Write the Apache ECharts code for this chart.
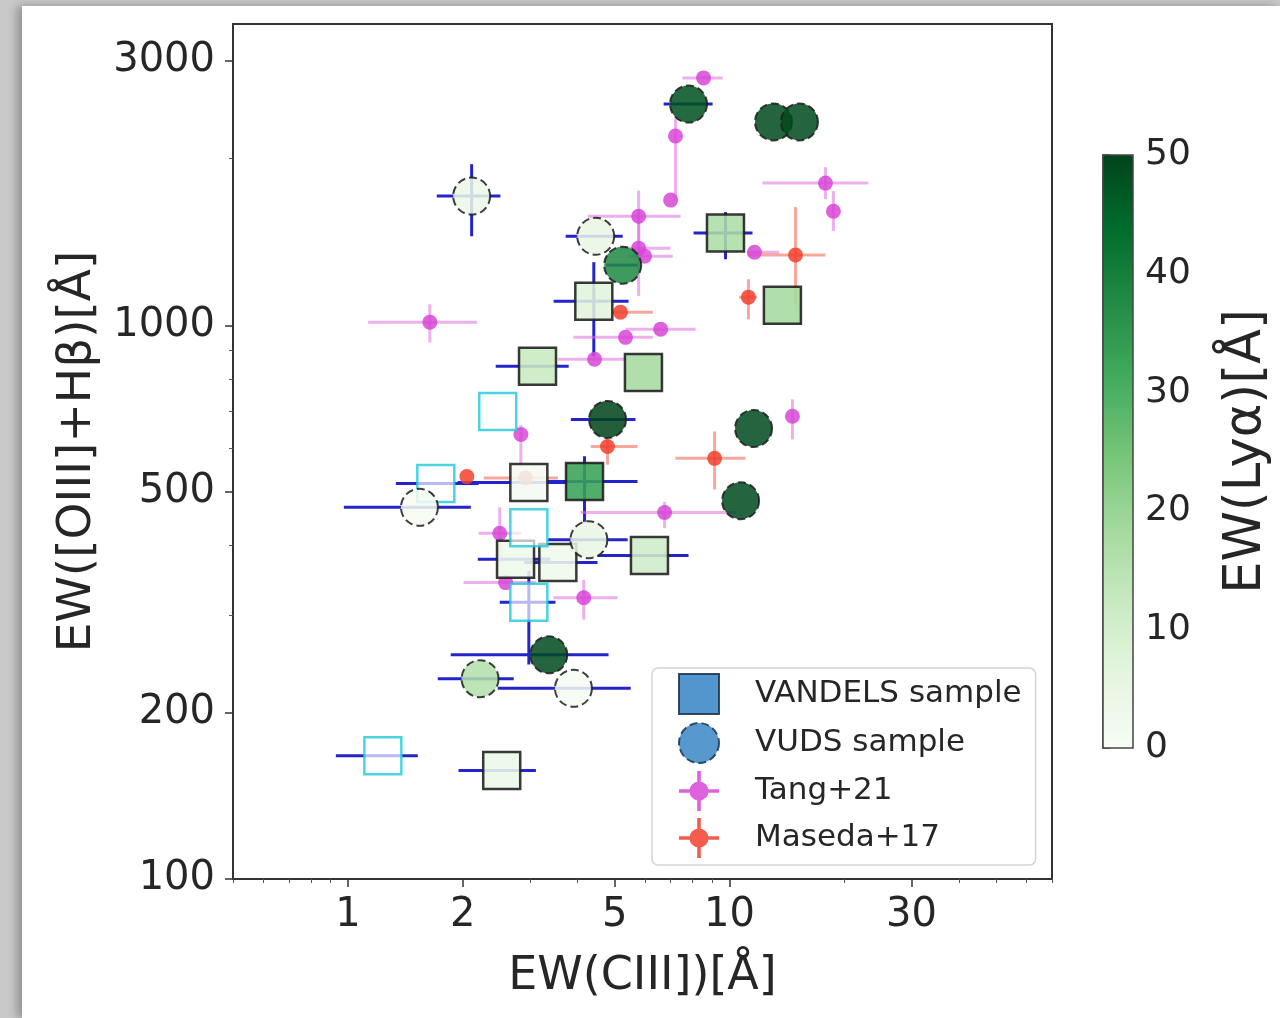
<!DOCTYPE html>
<html>
<head>
<meta charset="utf-8">
<title>EW([OIII]+Hβ) vs EW(CIII])</title>
<script src="https://cdn.jsdelivr.net/npm/echarts@6/dist/echarts.min.js"></script>
<style>
  html, body { margin: 0; padding: 0; width: 1280px; height: 1018px; overflow: hidden; background: #c9c9c9; }
  #card { position: absolute; left: 22px; top: 6px; right: 0; bottom: 0; background: #fff;
          box-shadow: -5px 0 9px rgba(0,0,0,0.28); }
  #chart { position: absolute; left: 0; top: 0; width: 1280px; height: 1018px; }
</style>
</head>
<body>
<div id="card"></div>
<div id="chart"></div>
<script>
// ---- VANDELS sample (with Lyα) ----
const vandelsX    = [4.41, 9.76, 13.76, 3.14, 5.95, 2.98, 4.17, 2.75, 3.55, 6.17, 2.53];
const vandelsY    = [1105, 1467, 1087, 843, 822, 520, 522, 378, 373, 384, 157];
const vandelsLya  = [7, 17, 18, 12, 18, 1, 33, 3, 3, 11, 4];
const vandelsXErr = [[3.46,5.44],[8.05,11.49],null,[2.44,3.79],null,[1.94,3.72],[3.30,5.74],[2.19,3.40],[2.90,4.51],[4.51,7.81],[1.95,3.11]];
const vandelsYErr = [[879,1300],[1316,1601],null,null,null,null,[440,580],null,null,null,null];

// ---- VANDELS sample without Lyα measurement ----
const vandelsNoLyaX    = [2.47, 1.70, 2.98, 2.98, 1.235];
const vandelsNoLyaY    = [699, 518, 431, 316, 167];
const vandelsNoLyaXErr = [null, [1.336,2.2], null, [2.5,3.5], [0.93,1.525]];
const vandelsNoLyaYErr = [null, null, null, [244,360], null];

// ---- VUDS sample ----
const vudsX    = [2.11, 4.46, 5.25, 7.81, 13.04, 15.25, 4.79, 11.56, 10.69, 1.54, 4.28, 3.36, 2.22, 3.90];
const vudsY    = [1711, 1448, 1284, 2509, 2329, 2329, 676, 651, 482, 469, 410, 254, 230, 221];
const vudsLya  = [4, 5, 38, 48, 49, 49, 50, 49, 49, 1, 5, 49, 16, 1];
const vudsXErr = [[1.71,2.51],[3.72,5.25],[4.75,5.75],[6.72,9.03],null,null,[3.84,5.67],null,null,[0.976,2.10],[3.34,5.41],[1.86,4.82],[1.72,2.72],[2.47,5.51]];
const vudsYErr = [[1448,1954],null,null,null,null,null,null,null,null,null,null,null,null,null];

// ---- Tang+21 ----
const tangX    = [8.55, 7.22, 7.01, 5.78, 17.84, 18.72, 5.78, 5.99, 11.63, 6.60, 5.34, 4.43, 1.64, 2.84, 2.50, 6.76, 4.15, 14.62, 2.59];
const tangY    = [2797, 2197, 1683, 1574, 1806, 1607, 1378, 1333, 1355, 984, 951, 868, 1013, 635, 421, 459, 322, 685, 343];
const tangXErr = [[7.53,9.59],null,null,[4.25,7.44],[12.2,23.1],null,[5.2,7.0],[5.4,7.1],[11.1,13.5],[5.34,8.15],[3.9,6.3],[3.55,5.41],[1.13,2.18],null,[2.2,2.85],[4.07,10.37],[3.46,5.09],null,[2.01,3.11]];
const tangYErr = [null,[1690,2360],null,[1350,1750],[1690,1930],[1480,1747],[1130,1600],null,null,null,null,null,[931,1091],[556,660],[372,469],[430,480],[294,347],[622,735],null];

// ---- Maseda+17 ----
const masedaX    = [14.89, 11.21, 5.18, 4.79, 9.14, 2.05, 2.92];
const masedaY    = [1339, 1124, 1056, 604, 575, 533, 530];
const masedaXErr = [[11.14,17.84],[10.6,11.8],[4.9,6.3],[4.33,5.74],[7.22,11.01],null,[2.27,3.55]];
const masedaYErr = [[1090,1635],[1025,1211],null,[560,622],[505,643],null,null];

// ---- axes ----
const xMajorTicks = [1, 2, 5, 10, 30];
const xMinorTicks = [0.5, 0.6, 0.7, 0.8, 0.9, 3, 4, 6, 7, 8, 9, 20, 40, 50, 60, 70];
const yMajorTicks = [100, 200, 500, 1000, 3000];
const yMinorTicks = [300, 400, 600, 700, 800, 900, 2000];
const greens = ['#f7fcf5','#e5f5e0','#c7e9c0','#a1d99b','#74c476','#41ab5d','#238b45','#006d2c','#00441b'];

const FONT = 'DejaVu Sans';
const INK = '#262626';

function points(xs, ys, extra) {
  return xs.map((x, i) => extra ? [x, ys[i], extra[i]] : [x, ys[i]]);
}
function errRows(xs, ys, xe, ye) {
  return xs.map((x, i) => [x, ys[i],
    xe[i] ? xe[i][0] : x, xe[i] ? xe[i][1] : x,
    ye[i] ? ye[i][0] : ys[i], ye[i] ? ye[i][1] : ys[i]]);
}
function errorBars(color, width) {
  return function (params, api) {
    const x = api.value(0), y = api.value(1);
    const a = api.coord([api.value(2), y]), b = api.coord([api.value(3), y]);
    const c = api.coord([x, api.value(4)]), d = api.coord([x, api.value(5)]);
    const st = { stroke: color, lineWidth: width };
    return { type: 'group', children: [
      { type: 'line', shape: { x1: a[0], y1: a[1], x2: b[0], y2: b[1] }, style: st },
      { type: 'line', shape: { x1: c[0], y1: c[1], x2: d[0], y2: d[1] }, style: st }
    ]};
  };
}

const blueErr = []
  .concat(errRows(vandelsX, vandelsY, vandelsXErr, vandelsYErr))
  .concat(errRows(vandelsNoLyaX, vandelsNoLyaY, vandelsNoLyaXErr, vandelsNoLyaYErr))
  .concat(errRows(vudsX, vudsY, vudsXErr, vudsYErr));

const tickFmt = v => String(Math.round(v));
const markerIcon = 'path://M-0.9,-10H0.9V10H-0.9Z M-10,-0.9H10V0.9H-10Z M0,-4.8A4.8,4.8 0 1,1 0,4.8A4.8,4.8 0 1,1 0,-4.8Z';

const option = {
  animation: false,
  grid: [
    { left: 233, top: 24, right: 228, bottom: 139, show: true, borderColor: '#333', borderWidth: 2, backgroundColor: 'transparent' },
    { left: 1103, top: 155, width: 30, height: 593, show: true, borderColor: '#444', borderWidth: 1.5, z: 10 }
  ],
  xAxis: [
    { type: 'log', logBase: 10, min: 0.5, max: 70, gridIndex: 0, position: 'bottom',
      axisLine: { show: true, onZero: false, lineStyle: { color: '#333', width: 2 } },
      axisTick: { show: true, customValues: xMajorTicks, length: 8, lineStyle: { color: '#333', width: 1.5 } },
      axisLabel: { customValues: xMajorTicks, formatter: tickFmt, fontFamily: FONT, fontSize: 40, color: INK, margin: 17 },
      splitLine: { show: false },
      name: 'EW(CIII])[Å]', nameLocation: 'middle', nameGap: 75,
      nameTextStyle: { fontFamily: FONT, fontSize: 46, color: INK } },
    { type: 'log', logBase: 10, min: 0.5, max: 70, gridIndex: 0, position: 'bottom',
      axisLine: { show: false, onZero: false },
      axisTick: { show: true, customValues: xMinorTicks, length: 4, lineStyle: { color: '#555', width: 1 } },
      axisLabel: { show: false }, splitLine: { show: false } },
    { type: 'value', gridIndex: 1, show: false, min: 0, max: 1 }
  ],
  yAxis: [
    { type: 'log', logBase: 10, min: 100, max: 3500, gridIndex: 0, position: 'left',
      axisLine: { show: true, onZero: false, lineStyle: { color: '#333', width: 2 } },
      axisTick: { show: true, customValues: yMajorTicks, length: 8, lineStyle: { color: '#333', width: 1.5 } },
      axisLabel: { customValues: yMajorTicks, formatter: tickFmt, fontFamily: FONT, fontSize: 40, color: INK, margin: 18 },
      splitLine: { show: false },
      name: 'EW([OIII]+Hβ)[Å]', nameLocation: 'middle', nameGap: 132, nameRotate: 90,
      nameTextStyle: { fontFamily: FONT, fontSize: 47, color: INK } },
    { type: 'log', logBase: 10, min: 100, max: 3500, gridIndex: 0, position: 'left',
      axisLine: { show: false, onZero: false },
      axisTick: { show: true, customValues: yMinorTicks, length: 4, lineStyle: { color: '#555', width: 1 } },
      axisLabel: { show: false }, splitLine: { show: false } },
    { type: 'value', gridIndex: 1, min: 0, max: 50, interval: 10, position: 'right',
      axisLine: { show: true, lineStyle: { color: '#444', width: 1.5 } },
      axisTick: { show: true, length: 7, lineStyle: { color: '#444', width: 1.5 } },
      axisLabel: { fontFamily: FONT, fontSize: 36, color: INK, margin: 12 },
      splitLine: { show: false },
      name: 'EW(Lyα)[Å]', nameLocation: 'middle', nameGap: 88, nameRotate: 90,
      nameTextStyle: { fontFamily: FONT, fontSize: 51, color: INK } }
  ],
  visualMap: {
    type: 'continuous', min: 0, max: 50, dimension: 2, seriesIndex: [5, 7],
    left: 1103, top: 155, itemWidth: 30, itemHeight: 593, padding: 0,
    calculable: false, hoverLink: false, text: null, show: true,
    inRange: { color: greens }
  },
  legend: {
    orient: 'vertical', left: 652, top: 668, itemWidth: 40, itemHeight: 40, itemGap: 7,
    padding: [5, 14, 7, 26], backgroundColor: 'rgba(255,255,255,0.9)',
    borderColor: '#d4d4d4', borderWidth: 1.5, borderRadius: 6, z: 20,
    selectedMode: false,
    textStyle: { fontFamily: FONT, fontSize: 31, color: INK, padding: [0, 0, 0, 31] },
    data: [
      { name: 'VANDELS sample', icon: 'rect', itemStyle: { color: '#3b88c6', borderColor: '#1b3550', borderWidth: 2 } },
      { name: 'VUDS sample', icon: 'circle', itemStyle: { color: '#3b88c6', borderColor: '#1b3550', borderWidth: 2, borderType: 'dashed' } },
      { name: 'Tang+21', icon: markerIcon, itemStyle: { color: '#d845d8', opacity: 0.85, borderWidth: 0 } },
      { name: 'Maseda+17', icon: markerIcon, itemStyle: { color: '#f2402e', opacity: 0.85, borderWidth: 0 } }
    ]
  },
  series: [
    { type: 'custom', xAxisIndex: 0, yAxisIndex: 0, z: 1, silent: true,
      renderItem: errorBars('#2424cc', 3), encode: { x: [0, 2, 3], y: [1, 4, 5] },
      data: blueErr },
    { type: 'custom', xAxisIndex: 0, yAxisIndex: 0, z: 2, silent: true,
      renderItem: errorBars('rgba(222,110,222,0.55)', 3), encode: { x: [0, 2, 3], y: [1, 4, 5] },
      data: errRows(tangX, tangY, tangXErr, tangYErr) },
    { type: 'custom', xAxisIndex: 0, yAxisIndex: 0, z: 2, silent: true,
      renderItem: errorBars('rgba(240,110,90,0.6)', 3), encode: { x: [0, 2, 3], y: [1, 4, 5] },
      data: errRows(masedaX, masedaY, masedaXErr, masedaYErr) },
    { name: 'Tang+21', type: 'scatter', xAxisIndex: 0, yAxisIndex: 0, z: 3,
      symbol: 'circle', symbolSize: 15,
      itemStyle: { color: '#d845d8', opacity: 0.85 },
      data: points(tangX, tangY) },
    { name: 'Maseda+17', type: 'scatter', xAxisIndex: 0, yAxisIndex: 0, z: 3,
      symbol: 'circle', symbolSize: 15,
      itemStyle: { color: '#f2402e', opacity: 0.85 },
      data: points(masedaX, masedaY) },
    { name: 'VANDELS sample', type: 'scatter', xAxisIndex: 0, yAxisIndex: 0, z: 4,
      symbol: 'rect', symbolSize: 37,
      itemStyle: { borderColor: '#1e1e1e', borderWidth: 2.5, opacity: 0.88 },
      data: points(vandelsX, vandelsY, vandelsLya) },
    { name: 'VANDELS sample', type: 'scatter', xAxisIndex: 0, yAxisIndex: 0, z: 4,
      symbol: 'rect', symbolSize: 37,
      itemStyle: { color: 'rgba(255,255,255,0.85)', borderColor: '#1ec8d8', borderWidth: 2.5 },
      data: points(vandelsNoLyaX, vandelsNoLyaY) },
    { name: 'VUDS sample', type: 'scatter', xAxisIndex: 0, yAxisIndex: 0, z: 5,
      symbol: 'circle', symbolSize: 37,
      itemStyle: { borderColor: '#1e1e1e', borderWidth: 2, borderType: 'dashed', opacity: 0.86 },
      data: points(vudsX, vudsY, vudsLya) }
  ]
};

const chart = echarts.init(document.getElementById('chart'), null, { renderer: 'canvas' });
chart.setOption(option);
</script>
</body>
</html>
